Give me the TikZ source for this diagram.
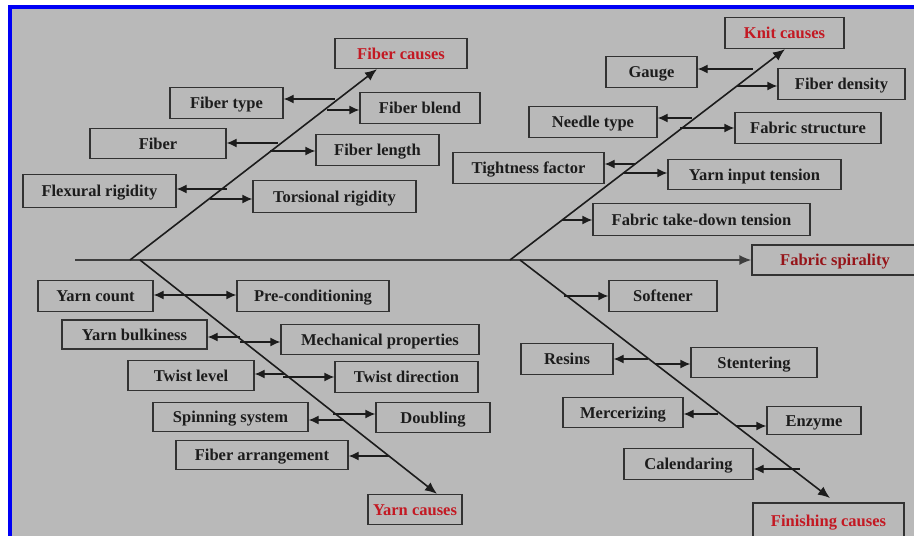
\documentclass[tikz,border=0pt]{standalone}
\usepackage{fontspec}
\setmainfont{Liberation Serif}
\usetikzlibrary{arrows.meta}
\definecolor{bg}{RGB}{185,185,185}
\definecolor{bluebd}{RGB}{0,0,245}
\definecolor{ink}{RGB}{28,28,28}
\definecolor{boxline}{RGB}{50,50,50}
\definecolor{redtxt}{RGB}{195,25,35}
\definecolor{darkred}{RGB}{150,20,25}
\newcommand\bx[7][]{\node[box,#1,minimum width=#5pt,minimum height=#6pt] (#2) at (#3,#4) {#7};}
\begin{document}
\begin{tikzpicture}[x=1pt,y=-1pt,
  box/.style={draw=boxline, line width=1.3pt, inner sep=0pt, text height=11pt, text depth=0pt, font=\fontsize{16.5}{18}\selectfont\bfseries, text=ink},
  cause/.style={text=redtxt},
  effect/.style={text=darkred},
  conn/.style={draw=ink, line width=1.3pt, -{Latex[length=10pt,width=9pt]}},
  bone/.style={draw=ink, line width=1.6pt, -{Latex[length=12pt,width=10pt]}},
  spine/.style={draw=ink!85, line width=1.6pt}]
\useasboundingbox (0,0) rectangle (914,536);
\fill[white] (0,0) rectangle (914,536);
\fill[bluebd] (8,5) rectangle (914,536);
\fill[bg] (12,9) rectangle (914,536);

% effect and cause boxes
\bx[effect]{spirality}{835}{260}{166}{30}{Fabric spirality}
\bx[cause]{fibercauses}{401}{53.5}{132}{30}{Fiber causes}
\bx[cause]{knitcauses}{784.5}{33}{119}{31}{Knit causes}
\bx[cause]{yarncauses}{415}{509.5}{94}{30}{Yarn causes}
\bx[cause]{finishingcauses}{828.5}{521}{151}{36}{Finishing causes}

% fiber side
\bx{fibertype}{226.5}{103}{113}{31}{Fiber type}
\bx{fiberblend}{420}{108}{120}{31}{Fiber blend}
\bx{fiber}{158}{143.5}{136}{30}{Fiber}
\bx{fiberlength}{377.5}{150}{123}{31}{Fiber length}
\bx{flexural}{99.5}{191}{153}{33}{Flexural rigidity}
\bx{torsional}{334.5}{196.5}{163}{32}{Torsional rigidity}

% knit side
\bx{gauge}{651.5}{72}{91}{31}{Gauge}
\bx{fiberdensity}{841.5}{84}{127}{31}{Fiber density}
\bx{needletype}{593}{122}{128}{31}{Needle type}
\bx{fabricstructure}{808}{128}{146}{31}{Fabric structure}
\bx{tightness}{528.5}{168}{151}{31}{Tightness factor}
\bx{yarninput}{754.5}{174.5}{173}{30}{Yarn input tension}
\bx{takedown}{701.5}{219.5}{217}{32}{Fabric take-down tension}

% yarn side
\bx{yarncount}{95.5}{296}{115}{31}{Yarn count}
\bx{precond}{313}{296}{152}{31}{Pre-conditioning}
\bx{yarnbulk}{134.5}{334.5}{145}{29}{Yarn bulkiness}
\bx{mechprop}{380}{339.5}{198}{30}{Mechanical properties}
\bx{twistlevel}{191}{375.5}{126}{30}{Twist level}
\bx{twistdir}{406.5}{377}{143}{31}{Twist direction}
\bx{spinning}{230.5}{417}{155}{29}{Spinning system}
\bx{doubling}{433}{417.5}{114}{30}{Doubling}
\bx{fiberarr}{262}{455}{172}{29}{Fiber arrangement}

% finishing side
\bx{softener}{663}{296}{108}{31}{Softener}
\bx{resins}{567}{359}{92}{31}{Resins}
\bx{stentering}{754}{362.5}{126}{30}{Stentering}
\bx{mercerizing}{623}{412.5}{120}{30}{Mercerizing}
\bx{enzyme}{814}{420.5}{94}{28}{Enzyme}
\bx{calendaring}{688.5}{464}{129}{31}{Calendaring}

% spine and bones
\coordinate (tail) at (75,260);
\coordinate (fb) at (130,260);
\coordinate (yb) at (140,260);
\coordinate (kb) at (510,260);
\coordinate (nb) at (520,260);
\coordinate (ftip) at (830,498);
\draw[spine, -{Latex[length=12pt,width=10pt]}] (tail) -- (tail -| spirality.west);
\draw[bone] (fb) -- (377,0 |- fibercauses.south);
\draw[bone] (kb) -- (785,0 |- knitcauses.south);
\draw[bone] (yb) -- (437,0 |- yarncauses.north);
\draw[bone] (nb) -- (ftip);

% fiber connectors
\coordinate (a1) at (335,99);  \draw[conn] (a1) -- (a1 -| fibertype.east);
\coordinate (a2) at (327,110); \draw[conn] (a2) -- (a2 -| fiberblend.west);
\coordinate (a3) at (278,143); \draw[conn] (a3) -- (a3 -| fiber.east);
\coordinate (a4) at (270,151); \draw[conn] (a4) -- (a4 -| fiberlength.west);
\coordinate (a5) at (227,189); \draw[conn] (a5) -- (a5 -| flexural.east);
\coordinate (a6) at (210,199); \draw[conn] (a6) -- (a6 -| torsional.west);

% knit connectors
\coordinate (b1) at (753,69);  \draw[conn] (b1) -- (b1 -| gauge.east);
\coordinate (b2) at (737,86);  \draw[conn] (b2) -- (b2 -| fiberdensity.west);
\coordinate (b3) at (692,118); \draw[conn] (b3) -- (b3 -| needletype.east);
\coordinate (b4) at (680,128); \draw[conn] (b4) -- (b4 -| fabricstructure.west);
\coordinate (b5) at (635,164); \draw[conn] (b5) -- (b5 -| tightness.east);
\coordinate (b6) at (624,173); \draw[conn] (b6) -- (b6 -| yarninput.west);
\coordinate (b7) at (562,220); \draw[conn] (b7) -- (b7 -| takedown.west);

% yarn connectors
\coordinate (c1) at (185,295); \draw[conn] (c1) -- (c1 -| yarncount.east);
\draw[conn] (c1) -- (c1 -| precond.west);
\coordinate (c2) at (240,337); \draw[conn] (c2) -- (c2 -| yarnbulk.east);
\coordinate (c3) at (240,342); \draw[conn] (c3) -- (c3 -| mechprop.west);
\coordinate (c4) at (285,374); \draw[conn] (c4) -- (c4 -| twistlevel.east);
\coordinate (c5) at (283,377); \draw[conn] (c5) -- (c5 -| twistdir.west);
\coordinate (c6) at (344,420); \draw[conn] (c6) -- (c6 -| spinning.east);
\coordinate (c7) at (333,414); \draw[conn] (c7) -- (c7 -| doubling.west);
\coordinate (c8) at (389,456); \draw[conn] (c8) -- (c8 -| fiberarr.east);

% finishing connectors
\coordinate (d1) at (564,296); \draw[conn] (d1) -- (d1 -| softener.west);
\coordinate (d2) at (648,359); \draw[conn] (d2) -- (d2 -| resins.east);
\coordinate (d3) at (656,364); \draw[conn] (d3) -- (d3 -| stentering.west);
\coordinate (d4) at (718,414); \draw[conn] (d4) -- (d4 -| mercerizing.east);
\coordinate (d5) at (736,426); \draw[conn] (d5) -- (d5 -| enzyme.west);
\coordinate (d6) at (800,469); \draw[conn] (d6) -- (d6 -| calendaring.east);
\end{tikzpicture}
\end{document}
